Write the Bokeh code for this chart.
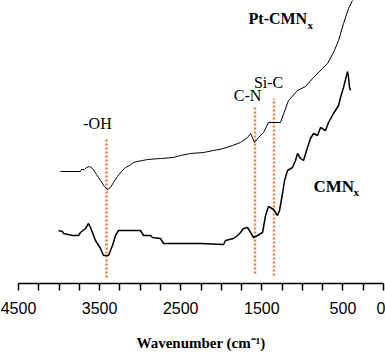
from bokeh.plotting import figure
from bokeh.models import Range1d, FixedTicker
from bokeh.core.properties import value
from bokeh.embed import file_html
from bokeh.resources import INLINE

# ---------------- data ----------------
# Pt-CMNx spectrum: wavenumber (cm-1) and transmittance (a.u.)
pt_wn = [3982, 3736, 3723, 3686, 3662, 3625, 3588, 3538, 3489, 3440, 3403,
         3366, 3329, 3279, 3230, 3181, 3131, 3082, 3033, 2971, 2909, 2749,
         2589, 2503, 2379, 2219, 2096, 1972, 1861, 1763, 1676, 1639, 1590,
         1541, 1479, 1417, 1270, 1171, 1060, 961, 863, 752, 690, 616, 554,
         493, 431, 382, 357]
pt_t = [129, 129, 131, 131, 133, 134, 132, 126, 120, 114, 111, 113, 118, 124,
        129, 133, 135, 138, 139, 140, 141, 142, 143, 145, 147, 148, 150, 152,
        155, 158, 163, 167, 158, 163, 168, 178, 178, 200, 210, 214, 223, 232,
        237, 248, 260, 277, 292, 300, 303]

# CMNx spectrum
cm_wn = [4007, 3957, 3945, 3834, 3760, 3736, 3674, 3637, 3612, 3551, 3489,
         3452, 3390, 3341, 3304, 3267, 2996, 2959, 2872, 2848, 2749, 2712,
         2256, 1972, 1948, 1849, 1800, 1763, 1726, 1676, 1639, 1602, 1553,
         1491, 1454, 1417, 1356, 1307, 1282, 1245, 1220, 1183, 1122, 1085,
         1060, 1023, 986, 949, 900, 863, 813, 776, 715, 678, 616, 554, 530,
         493, 456, 443, 431, 419, 406]
cm_t = [70, 69, 67, 65, 65, 68, 72, 77, 73, 60, 52, 45, 45, 55, 65, 70, 70,
        65, 65, 63, 62, 57, 57, 56, 60, 62, 65, 68, 72, 73, 68, 63, 65, 68,
        85, 94, 91, 85, 90, 107, 120, 130, 133, 140, 147, 142, 140, 150, 162,
        167, 165, 173, 170, 178, 187, 195, 203, 213, 225, 229, 223, 213, 210]

# band markers
band_wn = [3415, 1584, 1350]
band_top = [163, 195, 202]
band_bottom = [23, 27, 25]
band_names = ["-OH", "C-N", "Si-C"]
band_label_wn = [3526, 1676, 1417]
band_label_t = [177, 205, 218]

series_names = ["Pt-CMN", "CMN"]
series_label_wn = [1664, 863]
series_label_t = [282, 114]

tick_labels = [4500, 3500, 2500, 1500, 500, 0]
minor_tick_values = [4250, 4000, 3750, 3250, 3000, 2750, 2250, 2000, 1750,
                     1250, 1000, 750, 250]

# ---------------- figure ----------------
p = figure(width=385, height=353, output_backend="svg", toolbar_location=None,
           x_range=Range1d(4500, 0), y_range=Range1d(17, 300),
           y_axis_location=None, min_border_left=18, min_border_right=2,
           min_border_top=0, min_border_bottom=70)
p.outline_line_color = None
p.grid.visible = False
p.background_fill_color = "white"
p.border_fill_color = "white"

orange = "#ED7D31"
p.segment(x0=band_wn, y0=band_bottom, x1=band_wn, y1=band_top,
          line_color=orange, line_width=2.5, line_dash="2 2")

p.line(pt_wn, pt_t, line_color="black", line_width=1)
p.line(cm_wn, cm_t, line_color="black", line_width=1.5)

p.text(x=band_label_wn, y=band_label_t, text=band_names,
       text_font=value("Liberation Serif"), text_font_size="16px",
       text_align="center", text_baseline="middle", text_color="black")

p.text(x=series_label_wn, y=series_label_t, text=series_names,
       text_font=value("Liberation Serif"), text_font_size=["16px", "17px"],
       text_font_style="bold", text_align="left", text_baseline="middle",
       text_color="black")
# subscripts "x"
p.text(x=series_label_wn, y=series_label_t, text=["x", "x"],
       text_font=value("Liberation Serif"), text_font_size="11px",
       text_font_style="bold", text_align="left", text_baseline="middle",
       x_offset=[59, 40], y_offset=[6, 5], text_color="black")

ax = p.xaxis[0]
ax.ticker = FixedTicker(ticks=tick_labels, minor_ticks=minor_tick_values)
ax.axis_line_width = 1.5
ax.axis_line_color = "black"
ax.major_tick_in = 0
ax.major_tick_out = 7
ax.minor_tick_in = 0
ax.minor_tick_out = 7
ax.major_tick_line_width = 1.5
ax.minor_tick_line_width = 1.5
ax.major_tick_line_color = "black"
ax.minor_tick_line_color = "black"
ax.major_label_text_font = "Liberation Sans"
ax.major_label_text_font_size = "16px"
ax.major_label_text_color = "black"
ax.major_label_standoff = 11
ax.axis_label = "Wavenumber (cm\u207b\u00b9)"
ax.axis_label_text_font = "Liberation Serif"
ax.axis_label_text_font_style = "bold"
ax.axis_label_text_font_size = "15px"
ax.axis_label_text_color = "black"
ax.axis_label_standoff = 18

open("out.html", "w").write(file_html(p, INLINE))
